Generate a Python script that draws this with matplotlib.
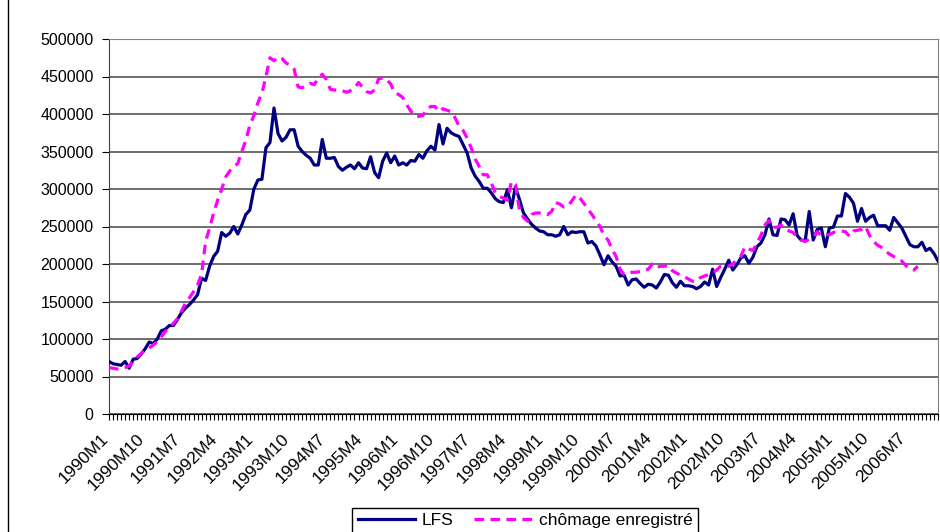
import matplotlib
matplotlib.use("Agg")
import matplotlib.pyplot as plt
from matplotlib.lines import Line2D
from matplotlib.transforms import ScaledTranslation

# monthly series, 1990M1 onwards
lfs = [
    70000, 67000, 66000, 65000, 70000, 61000, 73000, 74000, 80000, 87000,
    96000, 94000, 100000, 111000, 113000, 118000, 118000, 126000, 135000, 141000,
    146000, 152000, 159000, 181000, 178000, 197000, 210000, 217000, 242000, 237000,
    241000, 250000, 240000, 252000, 266000, 272000, 300000, 312000, 313000, 355000,
    362000, 408000, 374000, 364000, 369000, 379000, 379000, 357000, 350000, 345000,
    341000, 332000, 332000, 366000, 341000, 341000, 342000, 330000, 325000, 329000,
    332000, 327000, 335000, 328000, 327000, 343000, 322000, 315000, 337000, 348000,
    335000, 344000, 332000, 335000, 332000, 338000, 337000, 346000, 341000, 351000,
    357000, 352000, 386000, 360000, 381000, 375000, 372000, 370000, 359000, 348000,
    328000, 317000, 310000, 301000, 301000, 295000, 287000, 283000, 282000, 299000,
    275000, 303000, 286000, 268000, 260000, 253000, 248000, 244000, 243000, 239000,
    239000, 237000, 239000, 250000, 239000, 243000, 242000, 243000, 243000, 228000,
    230000, 224000, 212000, 199000, 211000, 203000, 197000, 184000, 185000, 172000,
    179000, 180000, 174000, 169000, 173000, 172000, 168000, 176000, 186000, 185000,
    175000, 169000, 177000, 171000, 171000, 170000, 167000, 170000, 176000, 172000,
    193000, 170000, 182000, 193000, 205000, 192000, 199000, 208000, 211000, 201000,
    209000, 223000, 228000, 239000, 260000, 239000, 238000, 260000, 259000, 252000,
    267000, 238000, 232000, 231000, 270000, 232000, 246000, 248000, 223000, 248000,
    249000, 264000, 264000, 294000, 289000, 281000, 257000, 274000, 257000, 262000,
    265000, 251000, 251000, 251000, 245000, 262000, 255000, 248000, 237000, 226000,
    223000, 223000, 229000, 218000, 221000, 214000, 204000,
]

chomage = [
    62000, 61000, 60000, 61000, 62000, 64000, 70000, 76000, 81000, 85000,
    88000, 92000, 96000, 103000, 110000, 115000, 121000, 127000, 137000, 148000,
    155000, 163000, 172000, 186000, 230000, 248000, 268000, 285000, 300000, 316000,
    324000, 330000, 334000, 350000, 365000, 385000, 398000, 415000, 428000, 450000,
    475000, 471000, 476000, 474000, 468000, 465000, 460000, 436000, 435000, 438000,
    441000, 439000, 448000, 453000, 446000, 433000, 432000, 432000, 431000, 429000,
    431000, 434000, 442000, 436000, 430000, 428000, 432000, 447000, 448000, 446000,
    440000, 428000, 426000, 422000, 412000, 404000, 397000, 397000, 398000, 407000,
    410000, 410000, 403000, 407000, 405000, 403000, 395000, 384000, 378000, 368000,
    355000, 340000, 330000, 319000, 319000, 308000, 295000, 290000, 288000, 285000,
    310000, 306000, 272000, 262000, 257000, 266000, 268000, 268000, 268000, 266000,
    270000, 282000, 280000, 276000, 277000, 284000, 292000, 288000, 281000, 273000,
    266000, 258000, 250000, 238000, 232000, 220000, 210000, 193000, 186000, 188000,
    189000, 189000, 190000, 192000, 193000, 200000, 195000, 197000, 197000, 198000,
    191000, 188000, 185000, 183000, 180000, 177000, 177000, 182000, 184000, 186000,
    188000, 192000, 197000, 197000, 197000, 200000, 206000, 210000, 223000, 220000,
    218000, 228000, 238000, 252000, 258000, 249000, 249000, 252000, 246000, 244000,
    242000, 236000, 232000, 230000, 233000, 236000, 243000, 238000, 239000, 239000,
    242000, 243000, 244000, 243000, 237000, 244000, 245000, 246000, 250000, 238000,
    230000, 225000, 222000, 217000, 213000, 210000, 207000, 204000, 198000, 193000,
    192000, 197000,
]

months = [f"{1990 + k // 12}M{k % 12 + 1}" for k in range(len(lfs))]
yticks = list(range(0, 500001, 50000))

plt.rcParams['font.family'] = ['Liberation Sans', 'DejaVu Sans']

fig = plt.figure(figsize=(9.4, 5.32), dpi=100)
ax = fig.add_axes([109 / 940, 118 / 532, 829 / 940, 375 / 532])

ax.plot(range(len(lfs)), lfs, color='#000080', lw=2.3, label='LFS', zorder=3)
ax.plot(range(len(chomage)), chomage, color='#FF00FF', lw=2.3, dashes=(3, 2),
        label='chômage enregistré', zorder=3)

ax.set_xlim(0, len(lfs) - 1)
ax.set_ylim(0, 500000)
ax.set_yticks(yticks)
ax.set_yticklabels([str(v) for v in yticks], fontsize=11.5)
ax.yaxis.grid(True, color='#555555', lw=1.2)
ax.set_axisbelow(True)

ax.set_xticks(range(len(lfs)), minor=True)
ax.set_xticks(range(0, len(lfs), 9))
ax.set_xticklabels(months[::9], rotation=45, ha='right', va='top',
                   rotation_mode='anchor', fontsize=12.5)
ax.tick_params(axis='x', which='both', length=4, width=0.8, pad=8)
ax.tick_params(axis='y', length=5, width=0.8, pad=6)
shift = ScaledTranslation(-6 / 72, 0, fig.dpi_scale_trans)
for lab in ax.get_xticklabels():
    lab.set_transform(lab.get_transform() + shift)

for side in ['top', 'right']:
    ax.spines[side].set_color('#808080')
ax.spines['left'].set_color('#404040')
ax.spines['bottom'].set_color('black')

fig.legend(loc='upper center', bbox_to_anchor=(525 / 940, 33 / 532), ncol=2,
           frameon=True, fancybox=False, edgecolor='black', framealpha=1,
           fontsize=12.5, handlelength=3.3, handletextpad=0.4,
           columnspacing=1.2, borderpad=0.3)

fig.add_artist(Line2D([8 / 940, 8 / 940], [0, 1], color='black', lw=1,
                      transform=fig.transFigure))

fig.savefig("out.png", dpi=100)
